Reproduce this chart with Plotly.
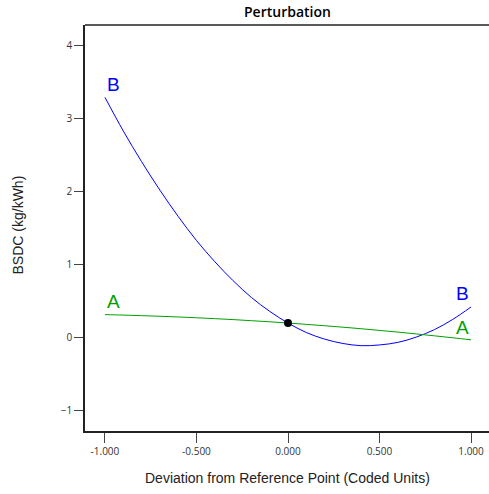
import plotly.graph_objects as go

# Deviation from reference point (coded units)
x_vals = [-1.0, -0.9, -0.8, -0.7, -0.6, -0.5, -0.4, -0.3, -0.2, -0.1, 0.0,
          0.1, 0.2, 0.3, 0.4, 0.5, 0.6, 0.7, 0.8, 0.9, 1.0]
# Factor B response
b_vals = [3.29, 2.83, 2.41, 2.02, 1.66, 1.33, 1.04, 0.78, 0.55, 0.36, 0.20,
          0.07, -0.02, -0.08, -0.11, -0.10, -0.065, 0.007, 0.11, 0.25, 0.42]
# Factor A response
a_vals = [0.315, 0.309, 0.301, 0.293, 0.283, 0.272, 0.26, 0.247, 0.232, 0.217, 0.20,
          0.182, 0.163, 0.143, 0.122, 0.099, 0.076, 0.051, 0.025, -0.002, -0.03]
ref_x = [0.0]
ref_y = [0.20]

x_ticks = [-1.0, -0.5, 0.0, 0.5, 1.0]
x_tick_text = ["-1.000", "-0.500", "0.000", "0.500", "1.000"]
y_ticks = [-1, 0, 1, 2, 3, 4]

blue = "#0000ff"
green = "#00a000"

fig = go.Figure()
fig.add_trace(go.Scatter(x=x_vals, y=b_vals, mode="lines",
                         line=dict(color=blue, width=1, shape="spline"),
                         hoverinfo="skip"))
fig.add_trace(go.Scatter(x=x_vals, y=a_vals, mode="lines",
                         line=dict(color=green, width=1, shape="spline"),
                         hoverinfo="skip"))
fig.add_trace(go.Scatter(x=ref_x, y=ref_y, mode="markers",
                         marker=dict(color="black", size=8)))

lab_font = dict(family="Arial, Liberation Sans", size=19)
ann = [
    dict(x=-1.0, y=3.47, text="B", xanchor="left", font=dict(color=blue, **lab_font)),
    dict(x=-1.0, y=0.49, text="A", xanchor="left", font=dict(color=green, **lab_font)),
    dict(x=1.0, y=0.60, text="B", xanchor="right", font=dict(color=blue, **lab_font)),
    dict(x=1.0, y=0.14, text="A", xanchor="right", font=dict(color=green, **lab_font)),
]
for a in ann:
    a.update(xref="x", yref="y", showarrow=False, yanchor="middle")

ann.append(dict(x=0.5, y=-0.115, xref="paper", yref="paper",
                text="Deviation from Reference Point (Coded Units)", showarrow=False,
                xanchor="center", yanchor="middle",
                font=dict(family="Arial, Liberation Sans", size=14, color="#222")))
ann.append(dict(x=-0.165, y=0.507, xref="paper", yref="paper",
                text="BSDC (kg/kWh)", showarrow=False, textangle=-90,
                xanchor="center", yanchor="middle",
                font=dict(family="Arial, Liberation Sans", size=14, color="#222")))
ann.append(dict(x=0.5, y=1.0, xref="paper", yref="paper", yshift=14,
                text="Perturbation", showarrow=False,
                xanchor="center", yanchor="middle",
                font=dict(family="Open Sans", size=14, color="black", weight=600)))

fig.update_layout(
    width=489, height=494,
    margin=dict(l=85, r=0, t=25, b=63, autoexpand=False),
    plot_bgcolor="white", paper_bgcolor="white",
    showlegend=False,
    annotations=ann,
    shapes=[dict(type="line", xref="paper", yref="paper", x0=0, x1=1, y0=1, y1=1,
                 line=dict(color="#222", width=1.5))],
)
fig.update_xaxes(range=[-1.109, 1.098], tickvals=x_ticks, ticktext=x_tick_text,
                 showgrid=False, zeroline=False, showline=True, linecolor="#222",
                 linewidth=1.5, ticks="outside", ticklen=10, tickcolor="#444",
                 automargin=False,
                 tickfont=dict(family="Open Sans", size=10, color="#333"))
fig.update_yaxes(range=[-1.278, 4.28], tickvals=y_ticks,
                 showgrid=False, zeroline=False, showline=True, linecolor="#222",
                 linewidth=1.5, ticks="outside", ticklen=9, tickcolor="#444",
                 automargin=False,
                 tickfont=dict(family="Open Sans", size=10, color="#333"))

fig.write_html("out.html", config={"displayModeBar": False},
               post_script="document.body.style.margin='0';"
                           "document.body.style.overflow='hidden';")
